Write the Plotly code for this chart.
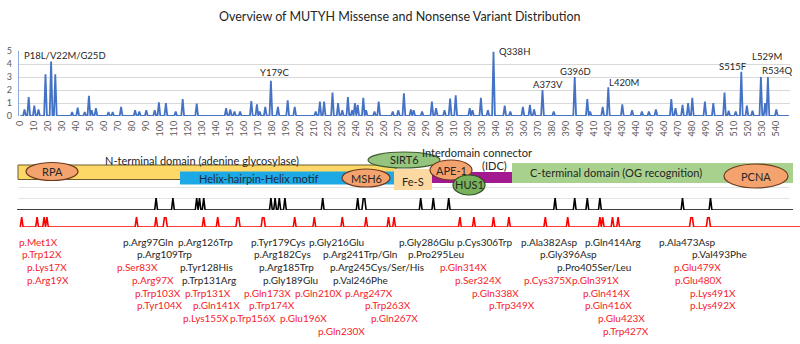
import numpy as np
import plotly.graph_objects as go

W, H = 800, 344

# ---------------- data ----------------
title_text = "Overview of MUTYH Missense and Nonsense Variant Distribution"

# top chart: residue position -> variant density value (zeros elsewhere)
peak_pos = [3, 6, 10, 13, 18, 22, 25, 37, 41, 46, 49, 51, 54, 63, 66, 72, 82, 85, 90, 96, 99, 104,
            111, 116, 126, 147, 150, 153, 157, 165, 169, 171, 175, 179, 184, 191, 196, 211, 214,
            217, 223, 227, 230, 234, 237, 239, 241, 245, 247, 253, 256, 266, 270, 274, 279, 281,
            287, 294, 297, 303, 307, 311, 321, 323, 329, 334, 338, 346, 350, 359, 364, 367, 373,
            381, 396, 405, 407, 416, 420, 430, 437, 444, 449, 454, 465, 468, 473, 477, 480, 489,
            495, 503, 506, 511, 515, 519, 523, 529, 532, 534, 540]
peak_val = [0.5, 1.45, 0.8, 0.5, 3.2, 4.2, 3.2, 0.3, 0.65, 0.3, 1.55, 0.45, 0.6, 0.3, 0.3, 0.7, 0.45,
            0.35, 0.45, 0.45, 1.05, 1.0, 0.35, 1.3, 0.95, 0.6, 0.5, 0.35, 0.35, 1.15, 0.9, 0.35, 0.7,
            2.7, 0.7, 1.2, 0.7, 0.35, 1.1, 1.1, 1.8, 1.0, 0.45, 1.45, 0.45, 1.0, 0.85, 1.4, 0.45,
            0.35, 1.1, 0.35, 0.45, 1.75, 0.5, 0.45, 0.35, 1.1, 0.6, 0.45, 1.35, 1.6, 0.6, 0.45, 1.4,
            0.45, 4.95, 0.8, 0.35, 0.7, 0.85, 0.5, 2.0, 0.35, 3.0, 1.3, 0.35, 0.7, 2.2, 0.9, 0.45,
            0.35, 0.35, 0.5, 1.3, 0.6, 0.85, 1.0, 1.4, 1.1, 1.0, 1.8, 0.4, 0.35, 3.4, 0.8, 0.4, 3.0,
            1.0, 3.0, 0.5]
protein_length = 549

hotspot_labels = ["P18L/V22M/G25D", "Y179C", "Q338H", "A373V", "G396D", "L420M", "S515F", "L529M", "R534Q"]

missense_pos = [97, 109, 126, 128, 131, 179, 182, 185, 189, 216, 241, 245, 246, 286, 295, 306,
                382, 396, 405, 414, 473, 493]
nonsense_pos = [1, 12, 17, 19, 83, 97, 103, 104, 131, 141, 155, 156, 173, 174, 196, 210, 230, 247,
                263, 267, 314, 324, 338, 349, 375, 391, 414, 416, 423, 427, 479, 480, 491, 492]

variant_labels = [
    "p.Met1X", "p.Arg97Gln", "p.Arg126Trp", "p.Tyr179Cys", "p.Gly216Glu", "p.Gly286Glu", "p.Cys306Trp", "p.Ala382Asp", "p.Gln414Arg", "p.Ala473Asp",
    "p.Trp12X", "p.Arg109Trp", "p.Arg182Cys", "p.Arg241Trp/Gln", "p.Pro295Leu", "p.Gly396Asp", "p.Val493Phe",
    "p.Lys17X", "p.Ser83X", "p.Tyr128His", "p.Arg185Trp", "p.Arg245Cys/Ser/His", "p.Gln314X", "p.Pro405Ser/Leu", "p.Glu479X",
    "p.Arg19X", "p.Arg97X", "p.Trp131Arg", "p.Gly189Glu", "p.Val246Phe", "p.Ser324X", "p.Cys375X", "p.Gln391X", "p.Glu480X",
    "p.Trp103X", "p.Trp131X", "p.Gln173X", "p.Gln210X", "p.Arg247X", "p.Gln338X", "p.Gln414X", "p.Lys491X",
    "p.Tyr104X", "p.Gln141X", "p.Trp174X", "p.Trp263X", "p.Trp349X", "p.Gln416X", "p.Lys492X",
    "p.Lys155X", "p.Trp156X", "p.Glu196X", "p.Gln267X", "p.Glu423X",
    "p.Gln230X", "p.Trp427X",
]

domain_labels = ["N-terminal domain (adenine glycosylase)", "Helix-hairpin-Helix motif", "Fe-S",
                 "Interdomain connector", "(IDC)", "C-terminal domain (OG recognition)"]
partner_labels = ["RPA", "MSH6", "SIRT6", "APE-1", "HUS1", "PCNA"]

# ---------------- layout (pixel positions, styles) ----------------
label_x = [17, 121, 176, 249, 307, 397, 455, 519, 583, 657,
           20, 135, 252, 321, 406, 538, 690,
           25, 115, 178, 257, 328, 438, 555, 672,
           25, 130, 180, 261, 331, 453, 522, 570, 673,
           133, 183, 242, 293, 343, 470, 581, 688,
           135, 191, 247, 363, 487, 583, 688,
           181, 228, 278, 369, 596,
           316, 601]
label_row = [0] * 10 + [1] * 7 + [2] * 8 + [3] * 9 + [4] * 8 + [5] * 7 + [6] * 5 + [7] * 2
row_y = [241.7, 254.3, 267.2, 279.9, 292.6, 305.3, 318.0, 330.7]

hot_xy = [(22, 55), (258, 72), (497, 51), (531, 84), (558, 71), (607, 82), (717, 66), (750, 56), (760, 70)]

FONT = "Lato"
BLACK_T = "#262626"
RED_T = "#F5222B"

def px(x, y):
    return x / W, 1 - y / H

# ---------------- figure ----------------
res = np.arange(0, protein_length + 1)
density = np.zeros(len(res))
for p, v in zip(peak_pos, peak_val):
    density[p] = v

mis_res = np.arange(-3, 553)
mis_track = np.isin(mis_res, missense_pos).astype(float)
non_res = np.arange(0, 559)
non_track = np.isin(non_res, nonsense_pos).astype(float)

fig = go.Figure()
fig.add_trace(go.Scatter(x=res, y=density, mode="lines", line=dict(color="#4472C4", width=1.8),
                         hoverinfo="skip", xaxis="x", yaxis="y"))
fig.add_trace(go.Scatter(x=mis_res, y=mis_track, mode="lines", line=dict(color="#000000", width=1.6),
                         hoverinfo="skip", xaxis="x2", yaxis="y2"))
fig.add_trace(go.Scatter(x=non_res, y=non_track, mode="lines", line=dict(color="#FF0000", width=1.6),
                         hoverinfo="skip", xaxis="x3", yaxis="y3"))

x0px, scale = 20.3, 1.4  # pixel of residue 0, px per residue
def xdom(p0, p1):
    return [p0 / W, p1 / W], [(p0 - x0px) / scale, (p1 - x0px) / scale]

d1, r1 = xdom(18.9, 790.3)
d2, r2 = xdom(17, 793)
d3, r3 = xdom(19, 800)

tick_vals = list(range(0, 541, 10))
fig.update_layout(
    template="none",
    width=W, height=H, margin=dict(l=0, r=0, t=0, b=0, pad=0, autoexpand=False),
    paper_bgcolor="white", plot_bgcolor="rgba(0,0,0,0)", showlegend=False,
    font=dict(family=FONT, color=BLACK_T),
    xaxis=dict(domain=d1, range=r1, tickvals=tick_vals, ticktext=[str(v) for v in tick_vals],
               tickangle=-90, tickfont=dict(size=9, color="#595959"), showgrid=False,
               zeroline=False, showline=False, ticks="", anchor="y", ticklabelstandoff=2,
               automargin=False),
    yaxis=dict(domain=[1 - 116 / H, 1 - 51 / H], range=[0, 5], dtick=1,
               tickfont=dict(size=9, color="#595959"), gridcolor="#D9D9D9", gridwidth=1,
               zeroline=False, showline=True, linecolor="#8FAADC", linewidth=1, ticks="",
               anchor="x", ticklabelstandoff=4, automargin=False),
    xaxis2=dict(domain=d2, range=r2, visible=False, anchor="y2", automargin=False),
    yaxis2=dict(domain=[1 - 210 / H, 1 - 198 / H], range=[0, 1], visible=False, anchor="x2", automargin=False),
    xaxis3=dict(domain=d3, range=r3, visible=False, anchor="y3", automargin=False),
    yaxis3=dict(domain=[1 - 227 / H, 1 - 217 / H], range=[0, 1], visible=False, anchor="x3", automargin=False),
)

shapes = []
def rect(x0, y0, x1, y1, fill, line="rgba(0,0,0,0)", lw=0):
    a, b = px(x0, y1)
    c, d = px(x1, y0)
    shapes.append(dict(type="rect", xref="paper", yref="paper", x0=a, y0=b, x1=c, y1=d,
                       fillcolor=fill, line=dict(color=line, width=lw), layer="above"))
def ell(cx, cy, rx, ry, fill, line="#404040"):
    a, b = px(cx - rx, cy + ry)
    c, d = px(cx + rx, cy - ry)
    shapes.append(dict(type="circle", xref="paper", yref="paper", x0=a, y0=b, x1=c, y1=d,
                       fillcolor=fill, line=dict(color=line, width=1.2), layer="above"))
def hline(x0, x1, y, color, w=1):
    a, b = px(x0, y)
    c, _ = px(x1, y)
    shapes.append(dict(type="line", xref="paper", yref="paper", x0=a, y0=b, x1=c, y1=b,
                       line=dict(color=color, width=w), layer="below"))

hline(18, 790, 187.5, "#E3E3E3")
hline(18, 790, 198.5, "#E3E3E3")

rect(18, 165, 396, 179.5, "#FDD866", "#6B5A2A", 1)
rect(180, 171.5, 395, 184.5, "#1CA9E6")
rect(394, 169, 432, 190, "#FCD9A0")
rect(432, 172, 512, 183, "#A3198F")
rect(512, 163, 793, 183, "#A9D18E")

ell(52, 171.5, 26, 9, "#F5A36E", "#6B3A1E")
ell(366, 178, 24, 9, "#F5A36E", "#6B3A1E")
ell(404, 160, 36, 8, "#94C47D", "#3F5F30")
ell(451, 170, 21, 10, "#F5A36E", "#6B3A1E")
ell(469, 185, 16, 10, "#78B25A", "#2F4F24")
ell(756, 176, 32, 12, "#F5A36E", "#6B3A1E")
fig.update_layout(shapes=shapes)

ann = []
def text(t, x, y, size=11, color=BLACK_T, xa="left"):
    a, b = px(x, y)
    ann.append(dict(text=t, x=a, y=b, xref="paper", yref="paper", xanchor=xa, yanchor="middle",
                    showarrow=False, font=dict(family=FONT, size=size, color=color)))

text(title_text, 400, 17, size=12.5, xa="center")
for t, (x, y) in zip(hotspot_labels, hot_xy):
    text(t, x, y, size=9.5)

text(domain_labels[0], 202, 160.5, size=11, xa="center")
text(domain_labels[1], 258, 178.5, size=11, color="#1F2A44", xa="center")
text(domain_labels[2], 413, 181, size=11, xa="center")
text(domain_labels[3], 477, 152, size=11, xa="center")
text(domain_labels[4], 494, 165, size=11, xa="center")
text(domain_labels[5], 616, 172.5, size=11, xa="center")
partner_xy = [(52, 171.5), (366, 178), (404, 160), (451, 170), (469, 185), (756, 176)]
for t, (x, y) in zip(partner_labels, partner_xy):
    text(t, x, y, size=11, xa="center")

for t, x, r in zip(variant_labels, label_x, label_row):
    color = RED_T if t.endswith("X") else BLACK_T
    text(t, x, row_y[r], size=10, color=color)

fig.update_layout(annotations=ann)
fig.write_html("out.html", config={"displayModeBar": False, "staticPlot": True},
               post_script="document.body.style.margin='0px';document.body.style.padding='0px';")
